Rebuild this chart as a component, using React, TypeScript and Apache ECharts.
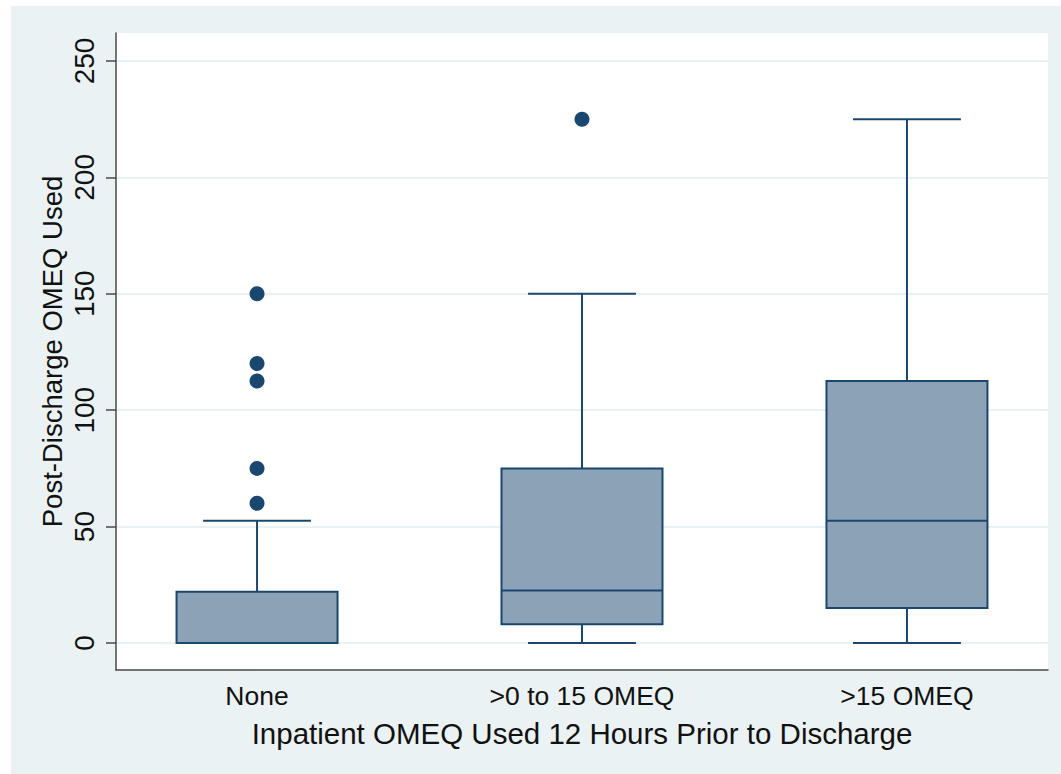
import React, { useEffect, useRef } from "react";
import * as echarts from "echarts";

// ---- Data ----
const categories = ["None", ">0 to 15 OMEQ", ">15 OMEQ"];
const categoryPos = [1, 2, 3];
const whiskerLow = [0, 0, 0];
const quartile1 = [0, 8, 15];
const medians = [0, 22.5, 52.5];
const quartile3 = [22, 75, 112.5];
const whiskerHigh = [52.5, 150, 225];
// outliers: [category index, value]
const outlierCat = [0, 0, 0, 0, 0, 1];
const outlierVal = [60, 75, 112.5, 120, 150, 225];
const yTicks = [0, 50, 100, 150, 200, 250];

const NAVY = "#1a476f";
const FILL = "#8ca3b7";
const BG = "#eaf2f3";
const TEXT = "#111111";
const AXIS = "#4a4a4a";
const FONT = "'Liberation Sans', Arial, Helvetica, sans-serif";

export default function App() {
  const ref = useRef<HTMLDivElement>(null);

  useEffect(() => {
    if (!ref.current) return;
    const chart = echarts.init(ref.current, null, { renderer: "svg" });

    const boxData = categories.map((_, i) => [
      categoryPos[i],
      whiskerLow[i],
      quartile1[i],
      medians[i],
      quartile3[i],
      whiskerHigh[i],
    ]);
    const outlierData = outlierVal.map((v, i) => [categoryPos[outlierCat[i]], v]);

    const BOX_HALF = 0.2477;
    const CAP_HALF = 0.166;

    const option: any = {
      animation: false,
      backgroundColor: "#ffffff",
      graphic: [
        {
          type: "rect",
          z: -10,
          silent: true,
          shape: { x: 11, y: 6, width: 1061, height: 780 },
          style: { fill: BG },
        },
      ],
      grid: {
        left: 116,
        right: 13,
        top: 33,
        bottom: 104,
        show: true,
        backgroundColor: "#ffffff",
        borderWidth: 0,
      },
      xAxis: {
        type: "value",
        min: 0.566,
        max: 3.434,
        axisLine: { show: true, onZero: false, lineStyle: { color: AXIS, width: 1.5 } },
        axisTick: { show: false },
        splitLine: { show: false },
        axisLabel: {
          customValues: categoryPos,
          formatter: (v: number) => categories[Math.round(v) - 1] ?? "",
          margin: 12,
          fontSize: 26.5,
          color: TEXT,
          fontFamily: FONT,
        },
        name: "Inpatient OMEQ Used 12 Hours Prior to Discharge",
        nameLocation: "middle",
        nameGap: 48,
        nameTextStyle: { fontSize: 29.5, color: TEXT, fontFamily: FONT },
      },
      yAxis: {
        type: "value",
        min: -11.6,
        max: 262,
        axisLine: { show: true, onZero: false, lineStyle: { color: AXIS, width: 1.5 } },
        axisTick: {
          show: true,
          customValues: yTicks,
          length: 10,
          lineStyle: { color: AXIS, width: 1.5 },
        },
        axisLabel: {
          customValues: yTicks,
          rotate: 90,
          margin: 18,
          fontSize: 28,
          color: TEXT,
          fontFamily: FONT,
        },
        splitLine: { show: true, lineStyle: { color: "#e3ecef", width: 1.5 } },
        name: "Post-Discharge OMEQ Used",
        nameLocation: "middle",
        nameGap: 50,
        nameMoveOverlap: false,
        nameTextStyle: { fontSize: 27.5, color: TEXT, fontFamily: FONT },
      },
      series: [
        {
          type: "custom",
          data: boxData,
          encode: { x: 0, y: [1, 2, 3, 4, 5] },
          z: 3,
          renderItem: (params: any, api: any) => {
            const x = api.value(0);
            const lo = api.value(1);
            const q1 = api.value(2);
            const med = api.value(3);
            const q3 = api.value(4);
            const hi = api.value(5);
            const pL1 = api.coord([x - BOX_HALF, q1]);
            const pR3 = api.coord([x + BOX_HALF, q3]);
            const pMedL = api.coord([x - BOX_HALF, med]);
            const pMedR = api.coord([x + BOX_HALF, med]);
            const pLo = api.coord([x, lo]);
            const pHi = api.coord([x, hi]);
            const pQ1 = api.coord([x, q1]);
            const pQ3 = api.coord([x, q3]);
            const capLoL = api.coord([x - CAP_HALF, lo]);
            const capLoR = api.coord([x + CAP_HALF, lo]);
            const capHiL = api.coord([x - CAP_HALF, hi]);
            const capHiR = api.coord([x + CAP_HALF, hi]);
            const lineStyle = { stroke: NAVY, lineWidth: 2 };
            return {
              type: "group",
              children: [
                {
                  type: "line",
                  shape: { x1: pQ3[0], y1: pQ3[1], x2: pHi[0], y2: pHi[1] },
                  style: lineStyle,
                },
                {
                  type: "line",
                  shape: { x1: pQ1[0], y1: pQ1[1], x2: pLo[0], y2: pLo[1] },
                  style: lineStyle,
                },
                {
                  type: "line",
                  shape: { x1: capHiL[0], y1: capHiL[1], x2: capHiR[0], y2: capHiR[1] },
                  style: lineStyle,
                },
                {
                  type: "line",
                  shape: { x1: capLoL[0], y1: capLoL[1], x2: capLoR[0], y2: capLoR[1] },
                  style: lineStyle,
                },
                {
                  type: "rect",
                  shape: {
                    x: pL1[0],
                    y: pR3[1],
                    width: pR3[0] - pL1[0],
                    height: pL1[1] - pR3[1],
                  },
                  style: { fill: FILL, stroke: NAVY, lineWidth: 2 },
                },
                {
                  type: "line",
                  shape: { x1: pMedL[0], y1: pMedL[1], x2: pMedR[0], y2: pMedR[1] },
                  style: lineStyle,
                },
              ],
            };
          },
        },
        {
          type: "scatter",
          data: outlierData,
          symbol: "circle",
          symbolSize: 15,
          itemStyle: { color: NAVY, opacity: 1 },
          z: 4,
        },
      ],
    };

    chart.setOption(option);
    return () => chart.dispose();
  }, []);

  return (
    <div
      ref={ref}
      style={{ position: "fixed", left: 0, top: 0, width: 1061, height: 774 }}
    />
  );
}
